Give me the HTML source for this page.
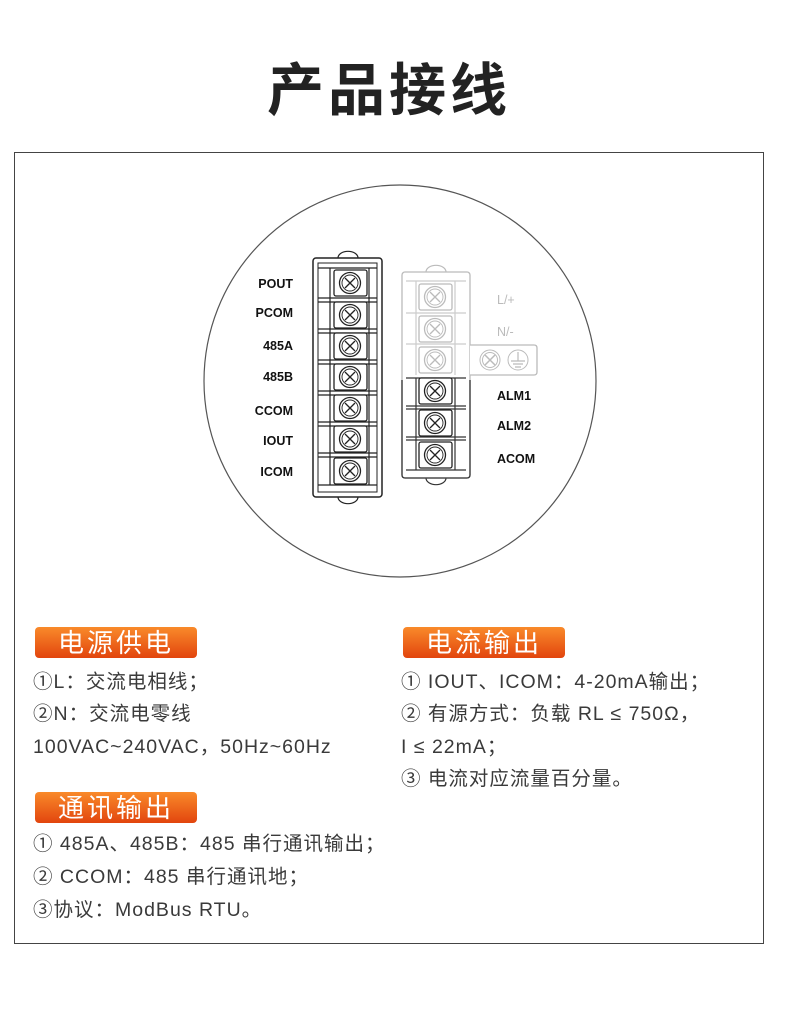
<!DOCTYPE html>
<html><head><meta charset="utf-8"><style>
body{margin:0;background:#fff;width:790px;height:1011px;overflow:hidden}
svg{display:block}
</style></head><body>
<svg width="790" height="1011" viewBox="0 0 790 1011" xmlns="http://www.w3.org/2000/svg" font-family="'Liberation Sans','Noto Sans CJK SC',sans-serif">
<defs>
<linearGradient id="og" x1="0" y1="0" x2="0" y2="1">
<stop offset="0" stop-color="#f98a2a"/><stop offset="1" stop-color="#e2450e"/>
</linearGradient>
<g id="scr">
<rect x="-16" y="-13" width="33" height="26" rx="2" fill="#fff" stroke-width="1.3"/>
<circle cx="0" cy="0" r="10.5" fill="none" stroke-width="1.3"/>
<circle cx="0" cy="0" r="8" fill="none" stroke-width="0.9"/>
<path d="M-5,-5 L5,5 M5,-5 L-5,5" stroke-width="1.3"/>
</g>
</defs>
<text x="389" y="110" font-size="57" font-weight="bold" text-anchor="middle" fill="#222" font-family="'Noto Sans CJK SC',sans-serif" letter-spacing="4">产品接线</text>
<rect x="14.5" y="152.5" width="749" height="791" fill="none" stroke="#444" stroke-width="1"/>
<circle cx="400" cy="381" r="196" fill="none" stroke="#555" stroke-width="1.2"/>

<g stroke="#222" fill="none">
<path d="M338,258 a9,6 0 0 1 20,0" stroke-width="1.2"/>
<path d="M338,497 a9,6 0 0 0 20,0" stroke-width="1.2"/>
<rect x="313" y="258" width="69" height="239" rx="3" fill="#fff" stroke-width="1.5"/>
<rect x="318" y="263" width="59" height="229" stroke-width="1"/>
<g stroke-width="1.2">
<path d="M318,268H377M318,298H377M318,302H377M318,329H377M318,333H377M318,360H377M318,364H377M318,391H377M318,395H377M318,422H377M318,426H377M318,453H377M318,457H377M318,485H377"/>
<path d="M330,268V485M369,268V485"/>
</g>
<g stroke="#222">
<use href="#scr" x="350" y="283"/><use href="#scr" x="350" y="315"/><use href="#scr" x="350" y="346"/>
<use href="#scr" x="350" y="377"/><use href="#scr" x="350" y="408"/><use href="#scr" x="350" y="439"/><use href="#scr" x="350" y="471"/>
</g>
</g>
<g font-size="12.5" font-weight="bold" fill="#111" text-anchor="end">
<text x="293" y="288">POUT</text><text x="293" y="317">PCOM</text><text x="293" y="350">485A</text>
<text x="293" y="381">485B</text><text x="293" y="415">CCOM</text><text x="293" y="445">IOUT</text><text x="293" y="476">ICOM</text>
</g>

<g fill="none">
<path d="M426,272 a9,6 0 0 1 20,0" stroke="#bbb" stroke-width="1.2"/>
<path d="M426,478 a9,6 0 0 0 20,0" stroke="#333" stroke-width="1.2"/>
<rect x="402" y="272" width="68" height="206" rx="3" fill="#fff" stroke="#bbb" stroke-width="1.3"/>
<path d="M402,380V475q0,3 3,3H467q3,0 3,-3V380" stroke="#333" stroke-width="1.3"/>
<path d="M470,345H534q3,0 3,3V372q0,3 -3,3H470" stroke="#bbb" stroke-width="1.3" fill="#fff"/>
<circle cx="490" cy="360" r="10" stroke="#bbb"/><circle cx="490" cy="360" r="7.5" stroke="#bbb"/>
<path d="M485,355L495,365M495,355L485,365" stroke="#bbb" stroke-width="1.5"/>
<circle cx="518" cy="360" r="10" stroke="#bbb"/>
<path d="M518,352V361M511,361H525M513,364H523M515,367H521" stroke="#bbb" stroke-width="1.2"/>
<path d="M406,281H466M406,313H466M406,344H466" stroke="#ccc" stroke-width="1.2"/>
<path d="M416,281V375M455,281V375" stroke="#ccc" stroke-width="1.2"/>
<path d="M406,378H466M406,406H466M406,409H466M406,437H466M406,440H466M406,470H466M416,378V470M455,378V470" stroke="#333" stroke-width="1.2"/>
<g stroke="#bbb"><use href="#scr" x="435" y="297"/><use href="#scr" x="435" y="329"/><use href="#scr" x="435" y="360"/></g>
<g stroke="#222"><use href="#scr" x="435" y="391"/><use href="#scr" x="435" y="423"/><use href="#scr" x="435" y="455"/></g>
</g>
<g font-size="12.5" fill="#bbb"><text x="497" y="304">L/+</text><text x="497" y="336">N/-</text></g>
<g font-size="12.5" font-weight="bold" fill="#111">
<text x="497" y="400">ALM1</text><text x="497" y="430">ALM2</text><text x="497" y="463">ACOM</text>
</g>

<g font-family="'Noto Sans CJK SC',sans-serif" font-size="26" fill="#fff" text-anchor="middle">
<rect x="35" y="627" width="162" height="31" rx="4" fill="url(#og)"/><text x="116" y="652" letter-spacing="3">电源供电</text>
<rect x="403" y="627" width="162" height="31" rx="4" fill="url(#og)"/><text x="484" y="652" letter-spacing="3">电流输出</text>
<rect x="35" y="792" width="162" height="31" rx="4" fill="url(#og)"/><text x="116" y="817" letter-spacing="3">通讯输出</text>
</g>
<g font-size="19.5" fill="#3a3a3a" letter-spacing="1">
<text x="33" y="688">①L：交流电相线；</text>
<text x="33" y="720">②N：交流电零线</text>
<text x="33" y="753">100VAC~240VAC，50Hz~60Hz</text>
<text x="401" y="688">① IOUT、ICOM：4-20mA输出；</text>
<text x="401" y="720">② 有源方式：负载 RL ≤ 750Ω，</text>
<text x="401" y="753">I ≤ 22mA；</text>
<text x="401" y="785">③ 电流对应流量百分量。</text>
<text x="33" y="850">① 485A、485B：485 串行通讯输出；</text>
<text x="33" y="883">② CCOM：485 串行通讯地；</text>
<text x="33" y="916">③协议：ModBus RTU。</text>
</g>
</svg>
</body></html>
